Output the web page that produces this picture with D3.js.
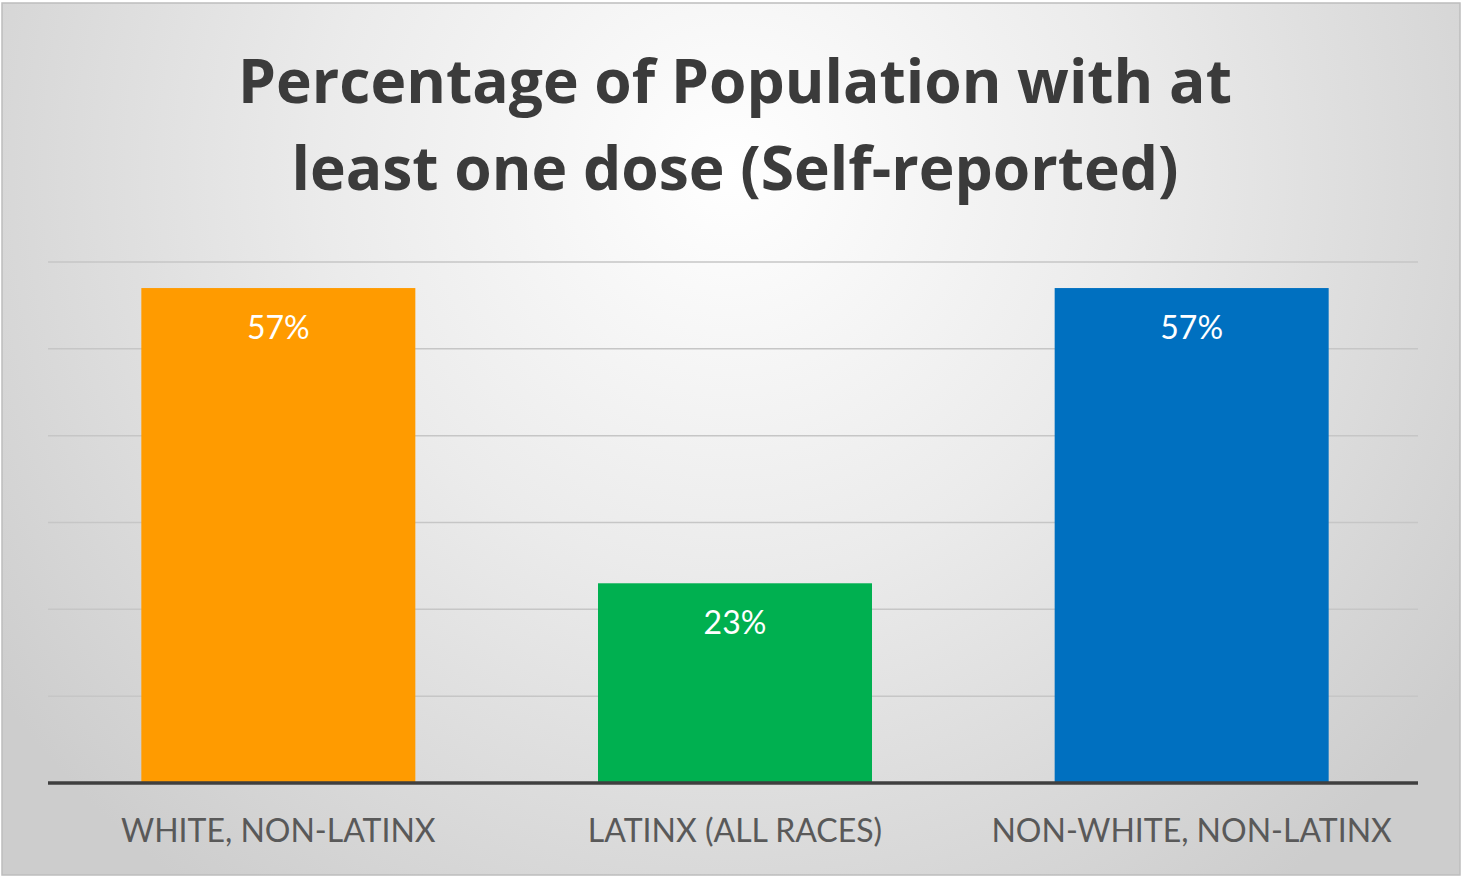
<!DOCTYPE html>
<html>
<head>
<meta charset="utf-8">
<script src="https://cdn.jsdelivr.net/npm/d3@7"></script>
<style>
    html, body { margin: 0; padding: 0; background: #fff; }
    svg { display: block; }
</style>
</head>
<body>
<div id="chart"></div>
<script>
var categories = ["WHITE, NON-LATINX", "LATINX (ALL RACES)", "NON-WHITE, NON-LATINX"];
var values = [57, 23, 57];
var colors = ["#FF9B00", "#00B050", "#0070C0"];
var gridTicks = [10, 20, 30, 40, 50, 60];
var titleLines = ["Percentage of Population with at", "least one dose (Self-reported)"];

var width = 1463, height = 878;

var svg = d3.select("#chart").append("svg")
    .attr("width", width)
    .attr("height", height);

// background gradient like the office chart area
var defs = svg.append("defs");
var grad = defs.append("radialGradient")
    .attr("id", "bg")
    .attr("gradientUnits", "userSpaceOnUse")
    .attr("cx", 730).attr("cy", 170)
    .attr("r", 900);
grad.append("stop").attr("offset", "0%").attr("stop-color", "#ffffff");
grad.append("stop").attr("offset", "45%").attr("stop-color", "#ebebeb");
grad.append("stop").attr("offset", "100%").attr("stop-color", "#cdcdcd");

svg.append("rect")
    .attr("x", 0).attr("y", 0)
    .attr("width", width).attr("height", height)
    .attr("fill", "#fff");
svg.append("rect")
    .attr("x", 2).attr("y", 3)
    .attr("width", 1458).attr("height", 872)
    .attr("fill", "url(#bg)")
    .attr("stroke", "#bdbdbd")
    .attr("stroke-width", 1.5);

// title
svg.append("g").selectAll("text")
    .data(titleLines)
    .enter().append("text")
    .attr("x", 735)
    .attr("y", function(d, i) { return 103 + i * 87; })
    .attr("text-anchor", "middle")
    .attr("font-family", "'Open Sans', Lato, sans-serif")
    .attr("font-weight", "bold")
    .attr("font-size", "60.5px")
    .attr("fill", "#3b3b3b")
    .text(function(d) { return d; });

var x = d3.scaleBand()
    .domain(categories)
    .range([50, 1420])
    .paddingInner(0.4)
    .paddingOuter(0.2);

var y = d3.scaleLinear()
    .domain([0, 60])
    .range([783, 262]);

// gridlines
svg.append("g").selectAll("line")
    .data(gridTicks)
    .enter().append("line")
    .attr("x1", 48).attr("x2", 1418)
    .attr("y1", function(d) { return y(d); })
    .attr("y2", function(d) { return y(d); })
    .attr("stroke", "#c6c6c6")
    .attr("stroke-width", 1.5);

// bars
var bars = svg.append("g").selectAll("g.bar")
    .data(categories)
    .enter().append("g")
    .attr("class", "bar");

bars.append("rect")
    .attr("x", function(d) { return x(d); })
    .attr("width", x.bandwidth())
    .attr("y", function(d, i) { return y(values[i]); })
    .attr("height", function(d, i) { return y(0) - y(values[i]); })
    .attr("fill", function(d, i) { return colors[i]; });

bars.append("text")
    .attr("x", function(d) { return x(d) + x.bandwidth() / 2; })
    .attr("y", function(d, i) { return y(values[i]) + 51; })
    .attr("text-anchor", "middle")
    .attr("font-family", "Lato, 'Open Sans', sans-serif")
    .attr("font-size", "32px")
    .attr("fill", "#ffffff")
    .text(function(d, i) { return values[i] + "%"; });

// axis baseline
svg.append("line")
    .attr("x1", 48).attr("x2", 1418)
    .attr("y1", y(0)).attr("y2", y(0))
    .attr("stroke", "#3f3f3f")
    .attr("stroke-width", 3.5);

// category labels
svg.append("g").selectAll("text")
    .data(categories)
    .enter().append("text")
    .attr("x", function(d) { return x(d) + x.bandwidth() / 2; })
    .attr("y", 842)
    .attr("text-anchor", "middle")
    .attr("font-family", "Lato, 'Open Sans', sans-serif")
    .attr("font-size", "32px")
    .attr("fill", "#595959")
    .text(function(d) { return d; });
</script>
</body>
</html>
